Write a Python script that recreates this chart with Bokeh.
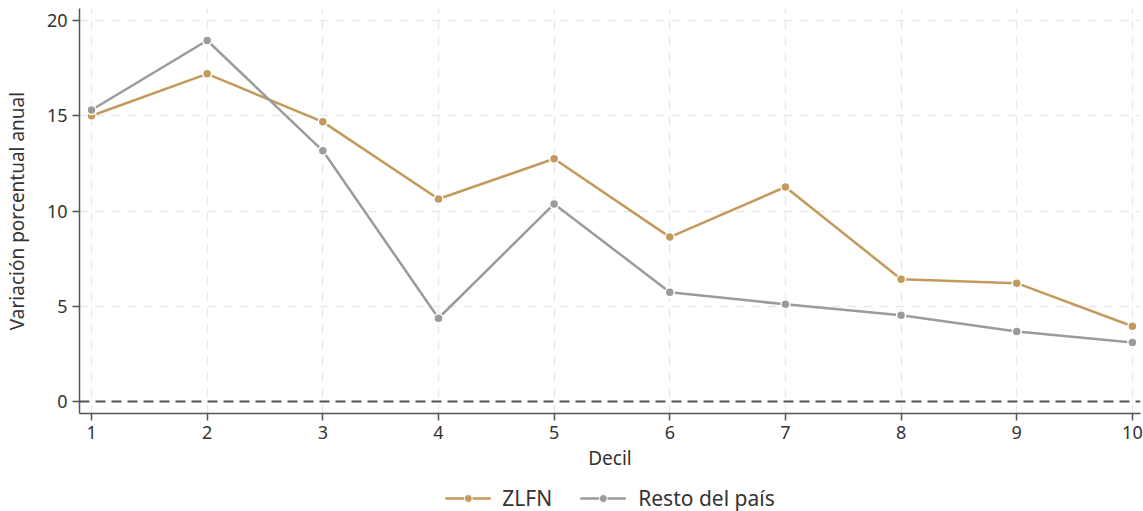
from bokeh.plotting import figure
from bokeh.models import Range1d, Span, Legend, LegendItem, FixedTicker
from bokeh.layouts import column
from bokeh.embed import file_html
from bokeh.resources import INLINE

deciles = [1, 2, 3, 4, 5, 6, 7, 8, 9, 10]
zlfn = [15.0, 17.2, 14.68, 10.63, 12.74, 8.63, 11.26, 6.42, 6.21, 3.95]
resto = [15.3, 18.95, 13.16, 4.37, 10.37, 5.74, 5.1, 4.53, 3.68, 3.1]
y_ticks = [0, 5, 10, 15, 20]
series_names = ["ZLFN", "Resto del país"]

FONT = "Noto Sans"
TAN = "#C49A5C"
GRAY = "#9B9B9B"

p = figure(width=1143, height=473, output_backend="svg", toolbar_location=None,
           x_range=Range1d(0.896, 10.07), y_range=Range1d(-0.63, 20.63),
           min_border_left=79, min_border_top=8, min_border_right=3, min_border_bottom=0)
p.outline_line_color = None
p.background_fill_color = "white"

for ax in (p.xaxis[0], p.yaxis[0]):
    ax.axis_line_color = "#555555"
    ax.axis_line_width = 1.5
    ax.major_tick_line_color = "#555555"
    ax.major_tick_line_width = 1.5
    ax.major_tick_out = 7
    ax.major_tick_in = 0
    ax.minor_tick_line_color = None
    ax.major_label_text_font = FONT
    ax.major_label_text_font_size = "18px"
    ax.major_label_text_color = "#333333"
    ax.axis_label_text_font = FONT
    ax.axis_label_text_font_size = "19px"
    ax.axis_label_text_font_style = "normal"
    ax.axis_label_text_color = "#333333"

p.xaxis.ticker = FixedTicker(ticks=deciles)
p.yaxis.ticker = FixedTicker(ticks=y_ticks)
p.xaxis.axis_label = "Decil"
p.yaxis.axis_label = "Variación porcentual anual"
p.xaxis.axis_label_standoff = 3
p.yaxis.axis_label_standoff = 14

p.xgrid.grid_line_color = "#e8e8e8"
p.ygrid.grid_line_color = "#e8e8e8"
p.xgrid.grid_line_dash = "9 7"
p.ygrid.grid_line_dash = "9 7"
p.xgrid.grid_line_width = 1.5
p.ygrid.grid_line_width = 1.5

zero = Span(location=0, dimension="width", line_color="#555555", line_width=2, line_dash="10 6")
p.add_layout(zero)

p.line(deciles, zlfn, line_color=TAN, line_width=2.5)
p.scatter(deciles, zlfn, size=9, fill_color=TAN, line_color="white", line_width=1.5)
p.line(deciles, resto, line_color=GRAY, line_width=2.5)
p.scatter(deciles, resto, size=9, fill_color=GRAY, line_color="white", line_width=1.5)

# legend strip
q = figure(width=1143, height=38, output_backend="svg", toolbar_location=None,
           x_range=Range1d(0, 1), y_range=Range1d(0, 1),
           min_border_left=79, min_border_right=3, min_border_top=12, min_border_bottom=0)
q.axis.visible = False
q.grid.visible = False
q.outline_line_color = None
items = []
for name, col in zip(series_names, [TAN, GRAY]):
    ln = q.line(x=[-5, -4], y=[-5, -4], line_color=col, line_width=2.5)
    sc = q.scatter(x=[-5], y=[-5], size=8, fill_color=col, line_color="white", line_width=1)
    items.append(LegendItem(label=name, renderers=[ln, sc]))
legend = Legend(items=items, orientation="horizontal", location="center",
                label_text_font=FONT, label_text_font_size="21px", label_text_color="#333333",
                border_line_color=None, background_fill_alpha=0,
                glyph_width=46, glyph_height=20, label_standoff=12,
                spacing=28, margin=0, padding=0)
q.add_layout(legend)

open("out.html", "w").write(file_html(column(p, q, spacing=0), INLINE))
